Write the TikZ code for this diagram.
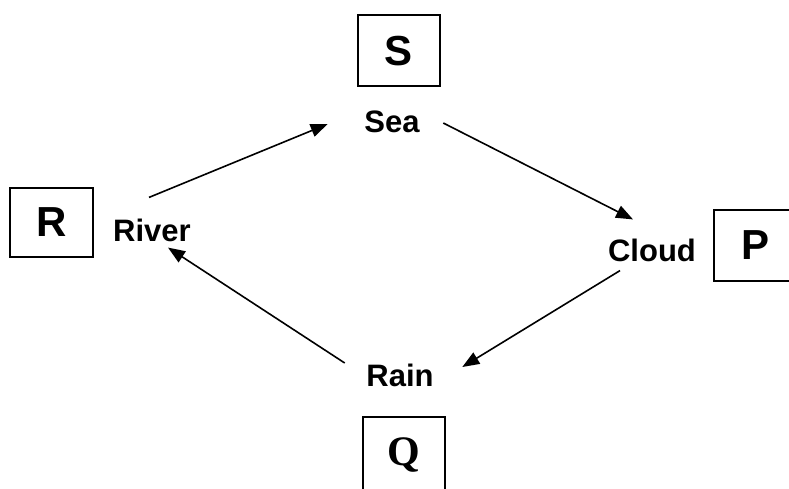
\documentclass[tikz,border=0pt]{standalone}
\usepackage{fontspec}
\setmainfont{Liberation Sans}
\newfontfamily\serifq{Liberation Serif}
\usetikzlibrary{arrows.meta}
\tikzstyle{stage}=[inner sep=0pt, font=\fontsize{31}{36}\selectfont\bfseries]
\tikzstyle{symbox}=[rectangle, draw=black, line width=2pt,
  minimum width=82pt, minimum height=71pt, inner sep=0pt,
  font=\fontsize{42}{48}\selectfont\bfseries]
\tikzstyle{flowarr}=[-{Triangle[length=17pt,width=13pt]}, line width=1.6pt]

\begin{document}
\begin{tikzpicture}[x=1pt,y=1pt]
\useasboundingbox (0,0) rectangle (789,488);
\clip (0,0) rectangle (789,488);

% the four stages
\node[stage] (sea) at (392,366) {Sea};
\node[stage] (river) at (152,258) {River};
\node[stage] (cloud) at (652,238) {Cloud};
\node[stage] (rain) at (400,113) {Rain};

% letter boxes
\node[symbox] (boxs) at (399,437) {S};
\node[symbox, minimum width=83pt, minimum height=69pt] (boxr) at (51.5,265.5) {R};
\node[symbox] (boxp) at (755,242.5) {P};
\node[symbox, minimum height=76pt, font=\fontsize{42}{48}\selectfont\bfseries\serifq] (boxq) at (404,33) {Q};

% the cycle
\draw[flowarr] ([xshift=-3pt,yshift=21pt]river.north) -- ([xshift=-36.5pt,yshift=-2pt]sea.west);
\draw[flowarr] ([xshift=23.5pt,yshift=-1pt]sea.east) -- ([xshift=-19pt,yshift=19pt]cloud.north);
\draw[flowarr] ([xshift=-32pt,yshift=-9pt]cloud.south) -- ([xshift=28.5pt,yshift=8pt]rain.east);
\draw[flowarr] ([xshift=-21.5pt,yshift=12pt]rain.west) -- ([xshift=16pt,yshift=-6pt]river.south);

\end{tikzpicture}
\end{document}
